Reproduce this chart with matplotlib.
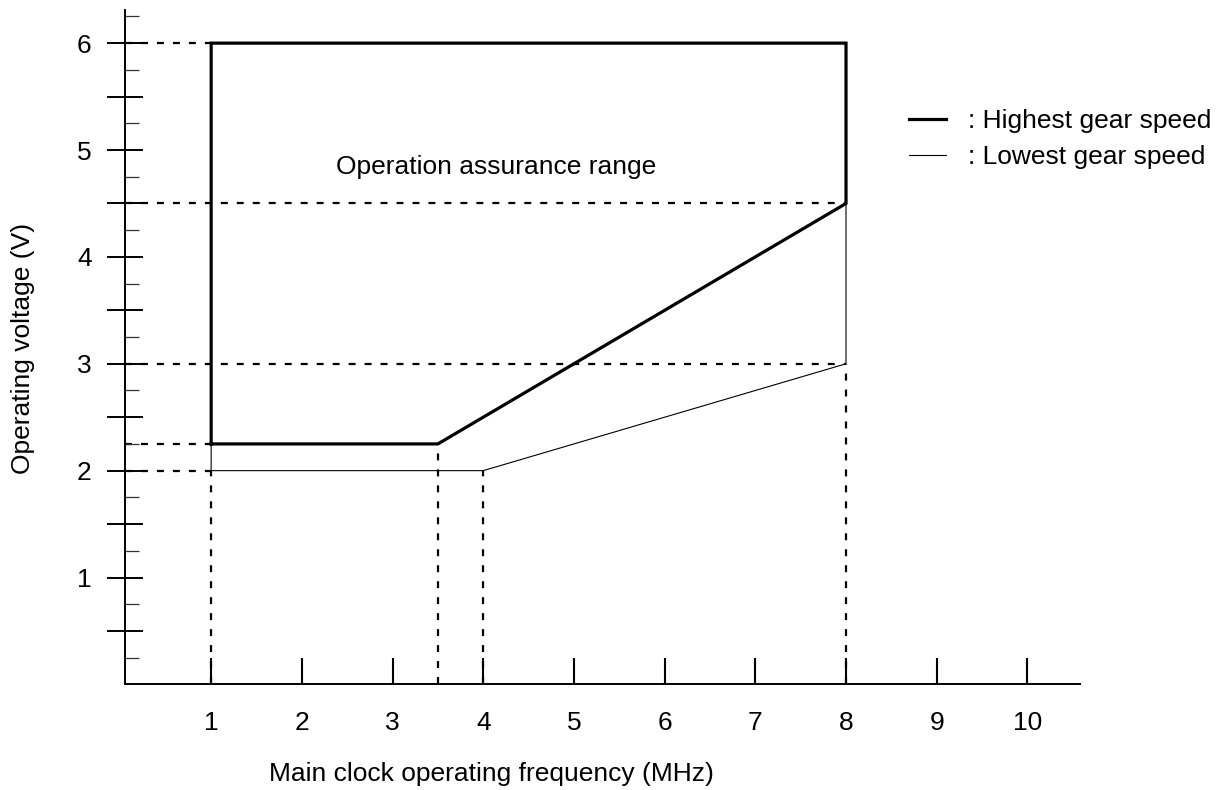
import matplotlib
matplotlib.use("Agg")
import matplotlib.pyplot as plt
from matplotlib.ticker import FixedLocator, FixedFormatter

plt.rcParams['font.family'] = ['Liberation Sans', 'DejaVu Sans']
plt.rcParams['lines.scale_dashes'] = False

# Data
high_x = [1, 1, 8, 8, 3.5, 1]
high_y = [2.25, 6, 6, 4.5, 2.25, 2.25]
low_x = [1, 1, 4, 8, 8]
low_y = [2.25, 2, 2, 3, 4.5]
guide_h_y = [6, 4.5, 3, 2.25, 2]
guide_h_x = [1, 8, 8, 1, 1]
guide_v_x = [1, 3.5, 4, 8]
guide_v_y = [2, 2.25, 2, 3]
x_ticks = [1, 2, 3, 4, 5, 6, 7, 8, 9, 10]
y_major = [0.5, 1, 1.5, 2, 2.5, 3, 3.5, 4, 4.5, 5, 5.5, 6]
y_minor = [0.25, 0.75, 1.25, 1.75, 2.25, 2.75, 3.25, 3.75, 4.25, 4.75, 5.25, 5.75, 6.25]
y_labels = ['', '1', '', '2', '', '3', '', '4', '', '5', '', '6']

W, H = 1224, 790
fig = plt.figure(figsize=(W / 100, H / 100), dpi=100)
ax = fig.add_axes([125 / W, (H - 684.4) / H, (1080 - 125) / W, (684.4 - 10) / H])
ax.set_xlim(0.05, 10.58)
ax.set_ylim(0, 6.31)

for s in ['top', 'right']:
    ax.spines[s].set_visible(False)
for s in ['left', 'bottom']:
    ax.spines[s].set_linewidth(1.4)

FS = 19
dash = (0, (5, 6.5))
for yv, xv in zip(guide_h_y, guide_h_x):
    ax.plot([0.05, xv], [yv, yv], color='black', lw=1.6, linestyle=dash, zorder=1)
for xv, yv in zip(guide_v_x, guide_v_y):
    ax.plot([xv, xv], [0, yv], color='black', lw=1.6, linestyle=dash, zorder=1)

lh, = ax.plot(high_x, high_y, color='black', lw=2.3, solid_joinstyle='miter', zorder=3)
ll, = ax.plot(low_x, low_y, color='black', lw=0.8, zorder=2)

ax.xaxis.set_major_locator(FixedLocator(x_ticks))
ax.set_xticklabels([str(v) for v in x_ticks])
ax.tick_params(axis='x', direction='in', length=19, width=1.5, pad=19, labelsize=FS)

ax.yaxis.set_major_locator(FixedLocator(y_major))
ax.yaxis.set_major_formatter(FixedFormatter(y_labels))
ax.yaxis.set_minor_locator(FixedLocator(y_minor))
ax.tick_params(axis='y', which='major', direction='inout', length=26, width=1.4, pad=11, labelsize=FS)
ax.tick_params(axis='y', which='minor', direction='in', length=10, width=0.9, color='#333333')

ax.text(4.137, 4.78, 'Operation assurance range', ha='center', va='baseline', fontsize=FS)

fig.text(23 / W, 1 - 348 / H, 'Operating voltage (V)', rotation=90, ha='center', va='center', fontsize=FS)
fig.text(491 / W, 1 - 774 / H, 'Main clock operating frequency (MHz)', ha='center', va='center', fontsize=FS)

leg = fig.legend([lh, ll], [': Highest gear speed', ': Lowest gear speed'],
                 loc='upper left', bbox_to_anchor=(909 / W, 1 - 109 / H), frameon=False,
                 fontsize=FS, handlelength=1.4, handletextpad=0.83, labelspacing=0.47,
                 borderpad=0, borderaxespad=0)

fig.savefig('out.png', dpi=100)
